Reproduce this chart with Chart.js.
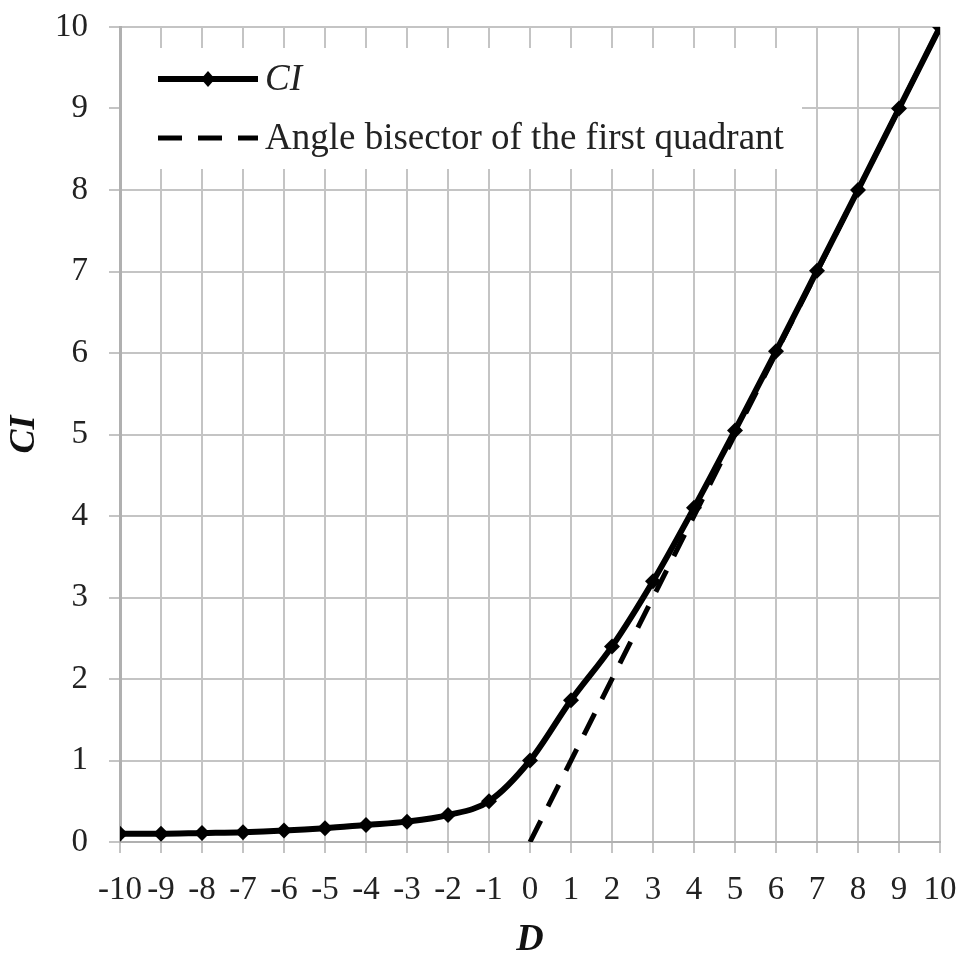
<!DOCTYPE html>
<html>
<head>
<meta charset="utf-8">
<script src="https://cdn.jsdelivr.net/npm/chart.js@4.4.1/dist/chart.umd.min.js"></script>
<style>
    html, body { margin: 0; padding: 0; background: #fff; }
    #wrap { width: 961px; height: 953px; }
</style>
</head>
<body>
<div id="wrap"><canvas id="ciChart"></canvas></div>
<script>
// Data
const dValues = [-10, -9, -8, -7, -6, -5, -4, -3, -2, -1, 0, 1, 2, 3, 4, 5, 6, 7, 8, 9, 10];
const ciValues = [0.1, 0.1, 0.11, 0.12, 0.14, 0.17, 0.21, 0.25, 0.33, 0.5, 1.0, 1.74, 2.4, 3.2, 4.1, 5.05, 6.02, 7.01, 8.0, 9.0, 10.0];
const bisectorD = [0, 10];
const bisectorCI = [0, 10];
const xTickMin = -10, xTickMax = 10;
const yTickMin = 0, yTickMax = 10;

const serif = "'Liberation Serif', 'Times New Roman', serif";
const gridGray = '#c4c4c4';

// legend drawn inside the plot area, top-left
const insideLegend = {
    id: 'insideLegend',
    afterDraw(chart) {
        const ctx = chart.ctx;
        const area = chart.chartArea;
        ctx.save();
        ctx.fillStyle = '#fff';
        ctx.fillRect(area.left + 2, 48, 680, 121);
        chart.data.datasets.forEach(function(ds, i) {
            const y = 79 + i * 59;
            ctx.strokeStyle = ds.borderColor;
            ctx.lineWidth = ds.borderWidth;
            ctx.setLineDash(ds.borderDash || []);
            ctx.beginPath();
            ctx.moveTo(158, y);
            ctx.lineTo(258, y);
            ctx.stroke();
            ctx.setLineDash([]);
            if (ds.pointRadius > 0) {
                ctx.fillStyle = ds.pointBackgroundColor;
                ctx.beginPath();
                ctx.moveTo(208, y - 8);
                ctx.lineTo(215, y);
                ctx.lineTo(208, y + 8);
                ctx.lineTo(201, y);
                ctx.closePath();
                ctx.fill();
            }
            ctx.fillStyle = '#222';
            ctx.font = (ds.legendStyle || 'normal') + ' 37px ' + serif;
            ctx.textBaseline = 'middle';
            ctx.fillText(ds.label, 265, y + 1);
        });
        ctx.restore();
    }
};

const ctx = document.getElementById('ciChart').getContext('2d');

new Chart(ctx, {
    type: 'line',
    data: {
        datasets: [{
            label: 'CI',
            legendStyle: 'italic',
            data: dValues.map((d, i) => ({ x: d, y: ciValues[i] })),
            borderColor: '#000',
            borderWidth: 6,
            pointStyle: 'rectRot',
            pointRadius: 8,
            pointBackgroundColor: '#000',
            pointBorderColor: '#000',
            pointBorderWidth: 0,
            cubicInterpolationMode: 'monotone',
            fill: false,
            order: 0
        }, {
            label: 'Angle bisector of the first quadrant',
            data: bisectorD.map((d, i) => ({ x: d, y: bisectorCI[i] })),
            borderColor: '#000',
            borderWidth: 5,
            borderDash: [24, 16],
            pointRadius: 0,
            fill: false,
            order: 1
        }]
    },
    options: {
        responsive: true,
        maintainAspectRatio: false,
        animation: false,
        layout: {
            padding: { top: 27, right: 21, left: 0, bottom: 0 }
        },
        scales: {
            x: {
                type: 'linear',
                min: xTickMin,
                max: xTickMax,
                afterFit: function(scale) {
                    scale.height = 111;
                    scale.paddingLeft = 0;
                    scale.paddingRight = 0;
                },
                ticks: {
                    stepSize: 1,
                    autoSkip: false,
                    maxRotation: 0,
                    padding: 18,
                    color: '#222',
                    font: { family: serif, size: 33 }
                },
                grid: {
                    color: gridGray,
                    lineWidth: 2,
                    tickLength: 11
                },
                border: { color: '#b0b0b0', width: 2 },
                title: {
                    display: true,
                    text: 'D',
                    color: '#111',
                    padding: { top: 0, bottom: -10 },
                    font: { family: serif, size: 38, weight: 'bold', style: 'italic' }
                }
            },
            y: {
                min: yTickMin,
                max: yTickMax,
                afterFit: function(scale) {
                    scale.width = 120;
                    scale.paddingTop = 0;
                    scale.paddingBottom = 0;
                },
                ticks: {
                    stepSize: 1,
                    padding: 21,
                    color: '#222',
                    font: { family: serif, size: 33 }
                },
                grid: {
                    color: gridGray,
                    lineWidth: 2,
                    tickLength: 11
                },
                border: { color: '#b0b0b0', width: 3 },
                title: {
                    display: true,
                    text: 'CI',
                    color: '#111',
                    padding: { top: 3, bottom: 0 },
                    font: { family: serif, size: 36, weight: 'bold', style: 'italic' }
                }
            }
        },
        plugins: {
            legend: { display: false },
            tooltip: { enabled: false }
        }
    },
    plugins: [insideLegend]
});
</script>
</body>
</html>
